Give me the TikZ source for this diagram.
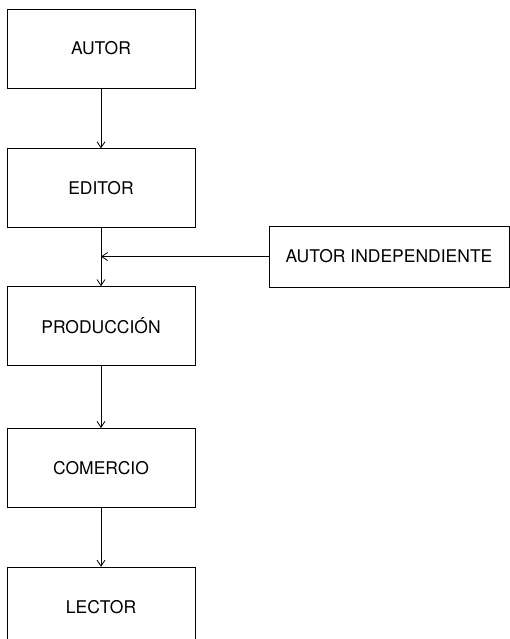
\documentclass[tikz,border=0pt]{standalone}
\usepackage{fontspec}
\setmainfont{TeX Gyre Heros}
\usepackage{tikz}
\usetikzlibrary{arrows.meta, positioning, calc}

\begin{document}
\begin{tikzpicture}[
          x=1bp, y=-1bp,
          stage/.style={rectangle, draw, line width=0.8bp, minimum width=188bp, minimum height=79bp, inner sep=0pt, font=\fontsize{17.5bp}{20bp}\selectfont},
          source/.style={rectangle, draw, line width=0.8bp, minimum width=240bp, minimum height=61bp, inner sep=0pt, font=\fontsize{17.5bp}{20bp}\selectfont},
          arrow/.style={-{Straight Barb[length=6bp, width=8bp]}, line width=0.8bp},
          node distance=60bp
      ]
      \useasboundingbox (0,0) rectangle (510,639);
      \clip (0,0) rectangle (510,639);

      % Chain
      \node[stage] (autor) at (101,48.5) {AUTOR};
      \node[stage, below=of autor] (editor) {EDITOR};
      \node[stage, below=58bp of editor] (produccion) {PRODUCCIÓN};
      \node[stage, below=62bp of produccion] (comercio) {COMERCIO};
      \node[stage, below=59bp of comercio] (lector) {LECTOR};

      % Side entry
      \node[source] (independiente) at (389,256.5) {AUTOR INDEPENDIENTE};
      \coordinate (join) at (editor.south |- independiente.west);

      % Arrows
      \draw[arrow] (autor) -- (editor);
      \draw[arrow] (editor) -- (produccion);
      \draw[arrow] (independiente) -- (join);
      \draw[arrow] (produccion) -- (comercio);
      \draw[arrow] (comercio) -- (lector);

      \end{tikzpicture}
\end{document}
